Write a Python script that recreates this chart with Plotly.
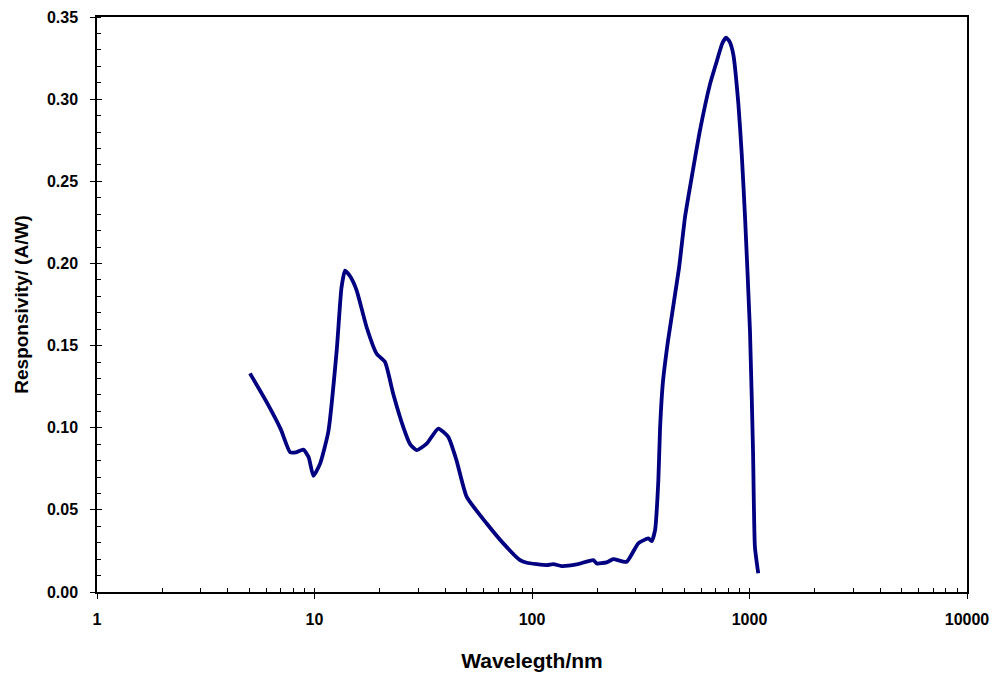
import plotly.graph_objects as go

wavelength_nm = [5.05, 6.0, 7.0, 7.72, 8.2, 8.89, 9.4, 9.88, 10.6, 11.57, 12.65, 13.3, 13.81, 14.6, 15.63, 17.38, 19.31, 21.1, 23.0, 25.6, 27.5, 29.5, 32.8, 37.1, 41.2, 45.0, 50.1,
                 61.9, 73.8, 88.1, 94.6, 116.9, 125.4, 136.8, 160.5, 191.5, 198.3, 220.3, 236.5, 272.4, 308, 342.6, 355, 368, 381,
                 388, 400, 422, 474, 505, 532, 592, 658, 707, 750, 780, 810, 843, 889, 921, 954, 1005, 1038, 1059, 1097]
responsivity = [0.1331, 0.1160, 0.0990, 0.0851, 0.0850, 0.0867, 0.0820, 0.0707, 0.0780, 0.0974, 0.1470, 0.1850, 0.1956, 0.1920, 0.1835, 0.1610, 0.1450, 0.1400, 0.1207, 0.1004, 0.0900, 0.0863, 0.0903, 0.0995, 0.0944, 0.0800, 0.0579,
                0.0417, 0.0296, 0.0194, 0.0178, 0.0164, 0.0170, 0.0158, 0.0168, 0.0194, 0.0174, 0.0180, 0.0200, 0.0184, 0.0296, 0.0326, 0.0310, 0.0377, 0.0680,
                0.1000, 0.1280, 0.1530, 0.1970, 0.2280, 0.2460, 0.2810, 0.3090, 0.3230, 0.3340, 0.3374, 0.3350, 0.3270, 0.2970, 0.2666, 0.2280, 0.1590, 0.0860, 0.0275, 0.0114]

x_ticks = [1, 10, 100, 1000, 10000]
x_tick_labels = ["1", "10", "100", "1000", "10000"]
x_minor_ticks = [m * d for d in (1, 10, 100, 1000) for m in range(2, 10)]

font = "Liberation Sans, Arial, sans-serif"

fig = go.Figure()
fig.add_trace(go.Scatter(
    x=wavelength_nm, y=responsivity, mode="lines",
    line=dict(color="#000080", width=3.8, shape="spline", smoothing=0.5),
    showlegend=False,
))
# invisible trace on overlay axes so they get drawn
fig.add_trace(go.Scatter(x=[1, 10000], y=[0, 0.35], xaxis="x2", yaxis="y2",
                         mode="markers", marker=dict(opacity=0), showlegend=False, hoverinfo="skip"))

fig.update_layout(
    width=1003, height=678,
    margin=dict(l=97, r=36, t=17, b=86),
    paper_bgcolor="white", plot_bgcolor="white",
    font=dict(family=font, color="black"),
    xaxis=dict(
        type="log", range=[0, 4], tickvals=x_ticks, ticktext=x_tick_labels,
        automargin=False,
        ticks="outside", ticklen=5, tickwidth=1.2, tickcolor="black",
        ticklabelstandoff=7,
        showgrid=False, zeroline=False,
        showline=True, linecolor="black", linewidth=1.5, mirror=True,
        tickfont=dict(family=font, size=16, color="black", weight="bold"),
        minor=dict(ticks="inside", tickvals=x_minor_ticks, ticklen=4, tickwidth=1,
                   tickcolor="black", showgrid=False),
        title=dict(text="<b>Wavelegth/nm</b>", font=dict(family=font, size=21, color="black"),
                   standoff=26),
    ),
    yaxis=dict(
        range=[0, 0.35], dtick=0.05, tick0=0, tickformat=".2f",
        automargin=False,
        ticks="outside", ticklen=5, tickwidth=1.2, tickcolor="black",
        ticklabelstandoff=9,
        showgrid=False, zeroline=False,
        showline=True, linecolor="black", linewidth=1.5, mirror=True,
        tickfont=dict(family=font, size=16, color="black", weight="bold"),
        minor=dict(ticks="inside", dtick=0.01, ticklen=4, tickwidth=1, tickcolor="black",
                   showgrid=False),
        title=dict(text="<b>Responsivity/ (A/W)</b>", font=dict(family=font, size=19, color="black"),
                   standoff=13),
    ),
    xaxis2=dict(type="log", range=[0, 4], overlaying="x", matches="x", tickvals=x_ticks,
                automargin=False,
                ticks="inside", ticklen=4, tickwidth=1.2, tickcolor="black",
                showticklabels=False, showgrid=False, zeroline=False, showline=False,
                anchor="y2", side="bottom"),
    yaxis2=dict(range=[0, 0.35], overlaying="y", matches="y", dtick=0.05, tick0=0,
                automargin=False,
                ticks="inside", ticklen=5, tickwidth=1.2, tickcolor="black",
                showticklabels=False, showgrid=False, zeroline=False, showline=False,
                anchor="x2", side="left"),
)

fig.write_html("out.html", config={"displayModeBar": False},
               post_script="document.body.style.margin='0';")
